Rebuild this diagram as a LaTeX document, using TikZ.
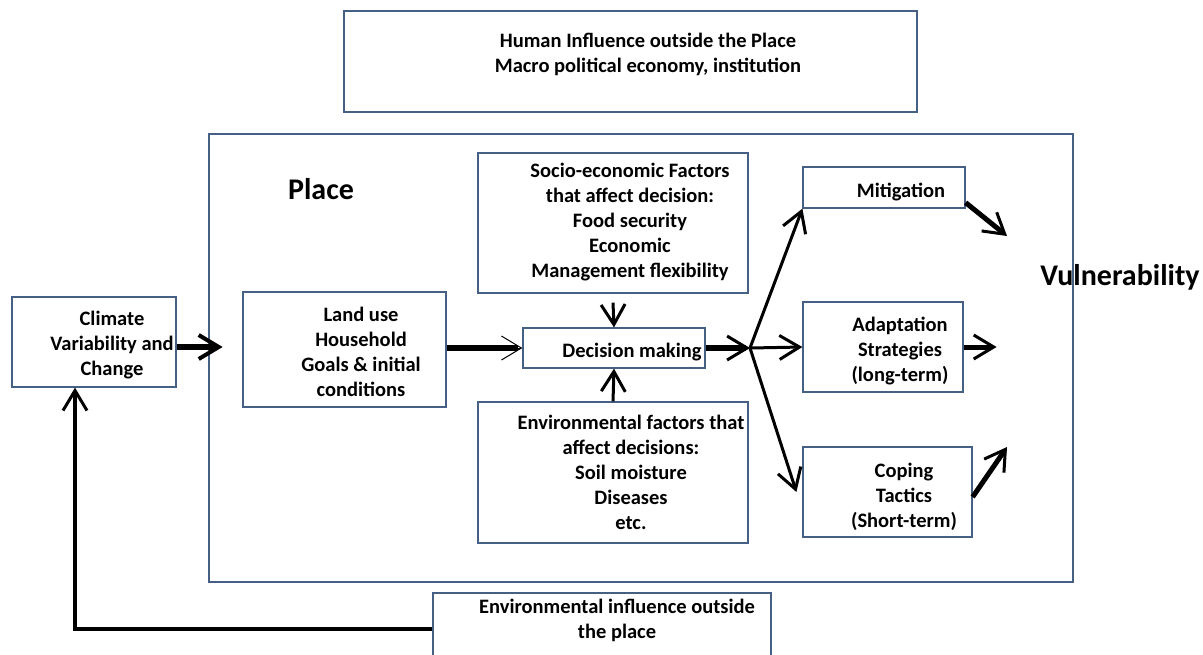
\documentclass[tikz,border=0pt]{standalone}
\usepackage{fontspec}
\setmainfont{Carlito}
\usetikzlibrary{arrows.meta,fit}
\definecolor{boxline}{RGB}{70,95,132}
\begin{document}
\begin{tikzpicture}[x=0.5pt,y=-0.5pt,
  box/.style={draw=boxline,line width=0.6pt,inner sep=0pt},
  txt/.style={align=center,inner sep=0pt,font=\fontsize{10.25}{12.5}\selectfont\bfseries},
  bigtxt/.style={inner sep=0pt,font=\fontsize{15}{18}\selectfont\bfseries},
  barb/.style={-{Straight Barb[length=10pt,width=12pt,line width=#1]}},
  barb/.default=1.5pt]
\clip (0,0) rectangle (1203,654);
% boxes (left/top/right/bottom in px)
\foreach \bx/\xa/\ya/\xb/\yb in {place/209/134/1073/582,human/344/11/917/112,climate/12/297/176/387,
  landuse/243/292/446/407,socio/478/153/748/293,decision/523/328/705/368,envfac/478/402/748/543,
  mitig/803/167/965/208,adapt/803/302/963/392,coping/803/447/972/537,envout/433/593/771/680}
  {\node[box,fit={(\xa,\ya) (\xb,\yb)}] (\bx) {};}
% texts
\node[txt] (humantxt) at (648,54) {Human Influence outside the Place\\Macro political economy, institution};
\node[bigtxt] (placetxt) at (321,189) {Place};
\node[txt] (climatetxt) at (112,345) {Climate\\Variability and\\Change};
\node[txt] (landusetxt) at (361,352) {Land use\\Household\\Goals \& initial\\conditions};
\node[txt] (sociotxt) at (630,222) {Socio-economic Factors\\that affect decision:\\Food security\\Economic\\Management flexibility};
\node[txt] (decisiontxt) at (632,352) {Decision making};
\node[txt] (envfactxt) at (631,472) {Environmental factors that\\affect decisions:\\Soil moisture\\Diseases\\etc.};
\node[txt] (mitigtxt) at (901,192) {Mitigation};
\node[txt] (adapttxt) at (900,351) {Adaptation\\Strategies\\(long-term)};
\node[txt] (copingtxt) at (904,497) {Coping\\Tactics\\(Short-term)};
\node[bigtxt] (vulntxt) at (1120,277) {Vulnerability};
\node[txt] (envouttxt) at (617,620) {Environmental influence outside\\the place};
% connectors
\coordinate (hub) at (750,348);
\coordinate (vmit) at (1007,236);
\coordinate (vcop) at (1007,447);
\coordinate (loop) at (75,629);
\draw[line width=3.2pt,barb=2pt] (climate.east) ++(0,5) -- ++(46,0);
\draw[line width=0.5pt,barb=0.5pt] (landuse.east |- decision.west) -- (decision.west);
\draw[line width=3pt,shorten >=2pt] (landuse.east |- decision.west) -- (decision.west);
\draw[line width=3pt,barb] (decision.east) -- (hub);
\draw[line width=1.5pt,barb] (hub) -- (adapt.west);
\draw[line width=1.5pt,barb] (hub) -- (mitig.south west);
\draw[line width=1.5pt,barb] (hub) -- ([xshift=-3pt]coping.west);
\draw[line width=1.5pt,barb] (socio.south) ++(0,9) -- (decision.north);
\draw[line width=1.5pt,barb] (envfac.north) -- (decision.south);
\draw[line width=2.5pt,barb] (mitig.south east) ++(0,-6) -- (vmit);
\draw[line width=2.5pt,barb] (adapt.east) -- ++(33,0);
\draw[line width=2.5pt,barb] (coping.east) ++(0,5) -- (vcop);
\draw[line width=2pt,barb] (envout.west |- loop) -- (loop) -- (loop |- climate.south);
\end{tikzpicture}
\end{document}
